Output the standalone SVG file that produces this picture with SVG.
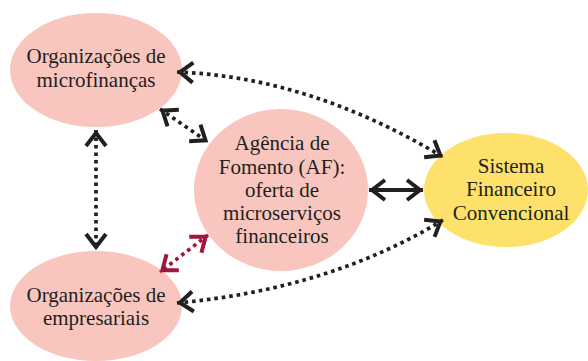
<svg xmlns="http://www.w3.org/2000/svg" width="588" height="361" viewBox="0 0 588 361">
<style>
.pink{fill:#f8c6bf}
.yellow{fill:#fde16a}
text{font-family:"Liberation Serif","Times New Roman",serif;font-size:21px;fill:#231f20;text-anchor:middle}
.dot{fill:none;stroke:#231f20;stroke-width:3.7;stroke-dasharray:3.6 3.9;marker-start:url(#ah);marker-end:url(#ah)}
.dotr{fill:none;stroke:#a0173e;stroke-width:3.7;stroke-dasharray:3.6 3.9;marker-start:url(#ahr);marker-end:url(#ahr)}
.solid{fill:none;stroke:#231f20;stroke-width:3.8;marker-start:url(#ah);marker-end:url(#ah)}
</style>
<defs>
<marker id="ah" markerUnits="userSpaceOnUse" viewBox="-20 -14 24 28" markerWidth="24" markerHeight="28" refX="0" refY="0" orient="auto-start-reverse">
<path d="M-16,-10 L-3,0 L-16,10" fill="none" stroke="#231f20" stroke-width="4"/>
</marker>
<marker id="ahr" markerUnits="userSpaceOnUse" viewBox="-20 -14 24 28" markerWidth="24" markerHeight="28" refX="0" refY="0" orient="auto-start-reverse">
<path d="M-16,-10 L-3,0 L-16,10" fill="none" stroke="#a0173e" stroke-width="4"/>
</marker>
</defs>
<g id="microfinancas">
<ellipse class="pink" cx="96" cy="70" rx="86" ry="57"/>
<text x="96" y="63">Organizações de</text>
<text x="96" y="87">microfinanças</text>
</g>
<g id="empresariais">
<ellipse class="pink" cx="96" cy="306" rx="86" ry="55"/>
<text x="96" y="302">Organizações de</text>
<text x="96" y="325">empresariais</text>
</g>
<g id="agencia">
<ellipse class="pink" cx="281" cy="190" rx="87" ry="81"/>
<text x="282" y="150">Agência de</text>
<text x="282" y="174">Fomento (AF):</text>
<text x="282" y="197">oferta de</text>
<text x="282" y="220">microserviços</text>
<text x="282" y="243">financeiros</text>
</g>
<g id="sistema">
<ellipse class="yellow" cx="506" cy="190" rx="82" ry="57"/>
<text x="511" y="173">Sistema</text>
<text x="511" y="196">Financeiro</text>
<text x="511" y="220">Convencional</text>
</g>
<g id="connectors">
<path class="dot" d="M177,72 Q310,77 443,157"/>
<path class="dot" d="M177,303 Q330,289 443,220"/>
<path class="dot" d="M160,109 L208,142"/>
<path class="dot" d="M96,130 L96,250"/>
<path class="dotr" d="M208,235 L160,272"/>
<path class="solid" d="M369,190 L423,190"/>
</g>
</svg>
